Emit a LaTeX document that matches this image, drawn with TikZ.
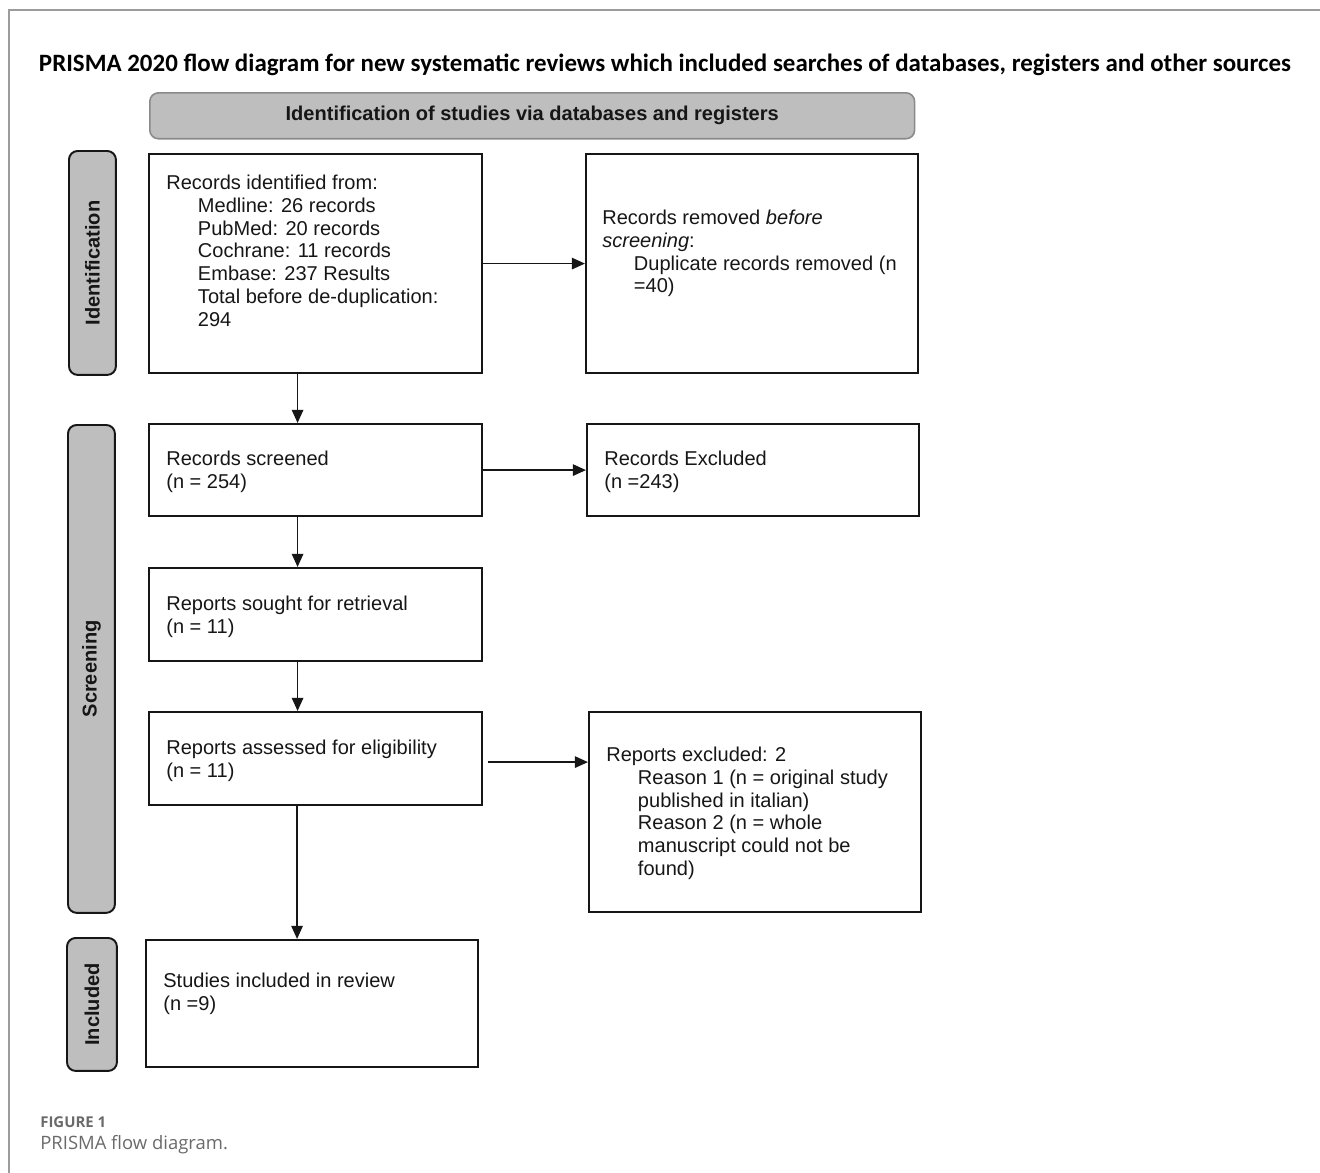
\documentclass[tikz,border=0pt]{standalone}
\usepackage{fontspec}
\usepackage{tikz}
\usetikzlibrary{arrows.meta,positioning}
\setmainfont{Liberation Sans}
\newfontfamily\titlefont{Carlito}
\newfontfamily\capfont{Open Sans}
\definecolor{Ink}{HTML}{161616}
\definecolor{Band}{HTML}{BEBEBE}
\definecolor{BandRule}{HTML}{8A8A8A}
\definecolor{Frame}{HTML}{9C9C9C}
\definecolor{Mute}{HTML}{6A6A6A}
\tikzset{
  box/.style={draw=Ink,line width=1.25pt,inner sep=0pt,anchor=north west},
  side/.style={draw=Ink,fill=Band,line width=1.1pt,rounded corners=5pt,inner sep=0pt,anchor=north west},
  sidelab/.style={rotate=90,font=\fontsize{11.4}{13}\selectfont\bfseries,text=Ink},
  txt/.style={anchor=north west,inner sep=0pt,align=left,text=Ink,font=\fontsize{11.4}{13}\selectfont},
  arr/.style={draw=Ink,line width=1pt,-{Triangle[length=7.5pt,width=6.5pt]}}
}
\newcommand{\ind}{\hspace*{18pt}}

\begin{document}
\begin{tikzpicture}[x=0.02cm,y=-0.02cm]
  \useasboundingbox (0,0) rectangle (1320,1173);
  \draw[Frame,line width=0.9pt] (1320,10) -| (9,1173);
  % title and band
  \node[font=\titlefont\fontsize{14.2}{16}\selectfont\bfseries] (title) at (665,65)
    {PRISMA 2020 flow diagram for new systematic reviews which included searches of databases, registers and other sources};
  \node[draw=BandRule,fill=Band,line width=0.9pt,rounded corners=5pt,anchor=north west,
    minimum width=15.3cm,minimum height=0.92cm] (band) at (149,92) {};
  \node[font=\fontsize{11.4}{13}\selectfont\bfseries,text=Ink] (bandlab) at (band.center)
    {Identification of studies via databases and registers};
  % side bars
  \node[side,minimum width=0.94cm,minimum height=4.48cm] (sideid) at (68,150) {};
  \node[sidelab] (sideidlab) at (sideid.center) {Identification};
  \node[side,minimum width=0.94cm,minimum height=9.76cm] (sidesc) at (67,424) {};
  \node[sidelab] (sidesclab) at (sidesc.center) {Screening};
  \node[side,minimum width=1.0cm,minimum height=2.66cm] (sidein) at (66,937) {};
  \node[sidelab] (sideinlab) at (sidein.center) {Included};
  % boxes
  \node[box,minimum width=6.66cm,minimum height=4.38cm] (ident) at (148,153) {};
  \node[box,minimum width=6.64cm,minimum height=4.38cm] (removed) at (585,153) {};
  \node[box,minimum width=6.66cm,minimum height=1.84cm] (screened) at (148,423) {};
  \node[box,minimum width=6.64cm,minimum height=1.84cm] (recexcl) at (586,423) {};
  \node[box,minimum width=6.66cm,minimum height=1.86cm] (sought) at (148,567) {};
  \node[box,minimum width=6.66cm,minimum height=1.86cm] (assessed) at (148,711) {};
  \node[box,minimum width=6.64cm,minimum height=4.0cm] (repexcl) at (588,711) {};
  \node[box,minimum width=6.64cm,minimum height=2.54cm] (included) at (145,939) {};
  % texts
  \node[txt] (identtxt) at (166,174.5) {Records identified from:\\
    \ind Medline: 26 records\\ \ind PubMed: 20 records\\ \ind Cochrane: 11 records\\
    \ind Embase: 237 Results\\ \ind Total before de-duplication:\\ \ind 294};
  \node[txt] (removedtxt) at (602,209.5) {Records removed \textit{before}\\ \textit{screening}:\\
    \ind Duplicate records removed (n\\ \ind =40)};
  \node[txt] (screenedtxt) at (166,450.5) {Records screened\\ (n = 254)};
  \node[txt] (recexcltxt) at (604,450.5) {Records Excluded\\ (n =243)};
  \node[txt] (soughttxt) at (166,595.5) {Reports sought for retrieval\\ (n = 11)};
  \node[txt] (assessedtxt) at (166,739.5) {Reports assessed for eligibility\\ (n = 11)};
  \node[txt] (repexcltxt) at (606,746.5) {Reports excluded: 2\\
    \ind Reason 1 (n = original study\\ \ind published in italian)\\
    \ind Reason 2 (n = whole\\ \ind manuscript could not be\\ \ind found)};
  \node[txt] (includedtxt) at (163,972.5) {Studies included in review\\ (n =9)};
  % connectors
  \coordinate (assout) at ([xshift=0.1cm,yshift=-0.07cm]assessed.east);
  \draw[arr] (ident.east) -- (removed.west |- ident.east);
  \draw[arr] ([xshift=-0.36cm]ident.south) -- ([xshift=-0.36cm]screened.north);
  \draw[arr] (screened.east) -- (recexcl.west |- screened.east);
  \draw[arr] ([xshift=-0.36cm]screened.south) -- ([xshift=-0.36cm]sought.north);
  \draw[arr] ([xshift=-0.36cm]sought.south) -- ([xshift=-0.36cm]assessed.north);
  \draw[arr] (assout) -- (repexcl.west |- assout);
  \draw[arr] ([xshift=-0.37cm]assessed.south) -- ([xshift=-0.37cm]assessed.south |- included.north);
  % caption
  \node[font=\capfont\fontsize{8.5}{10}\selectfont\bfseries,text=Mute,anchor=west,inner sep=0pt] (figno) at (40,1122) {FIGURE 1};
  \node[font=\capfont\fontsize{10.5}{12}\selectfont,text=Mute,anchor=west,inner sep=0pt] (figcap) at (40,1145) {PRISMA flow diagram.};
\end{tikzpicture}
\end{document}
